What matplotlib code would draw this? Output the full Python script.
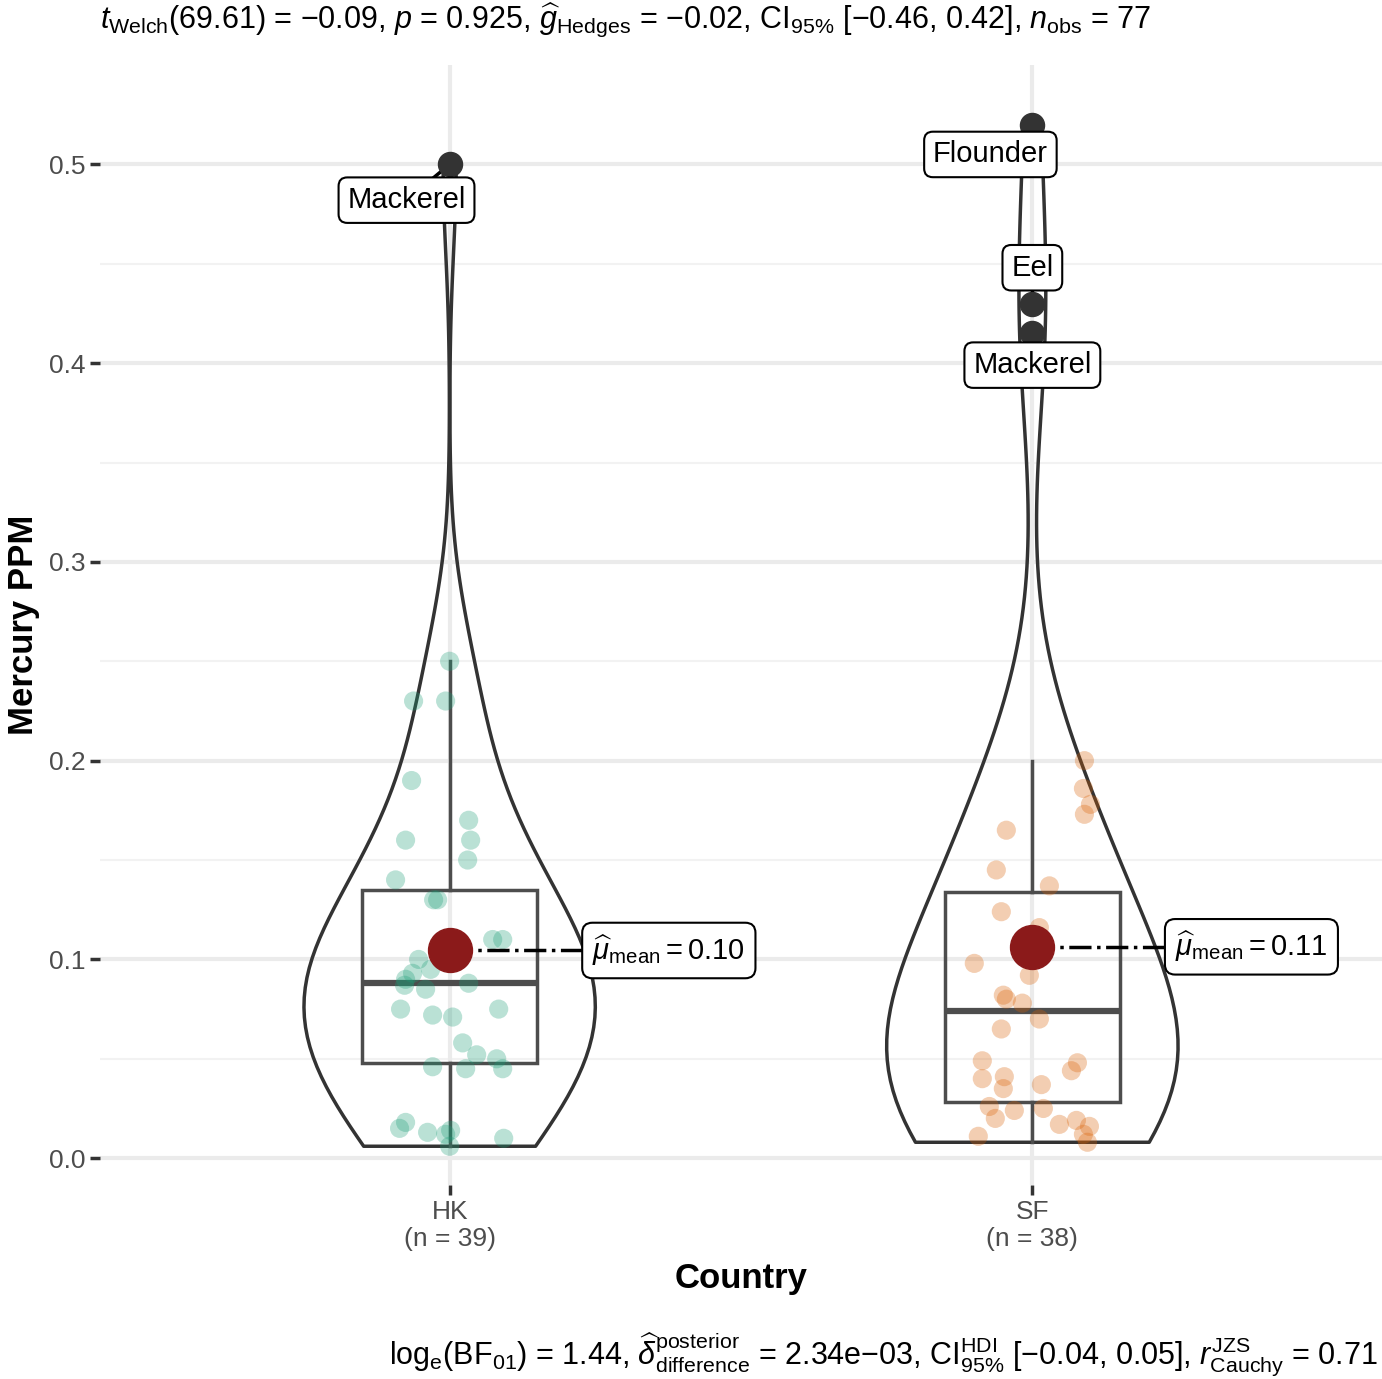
import numpy as np
import matplotlib
matplotlib.use("Agg")
import matplotlib.pyplot as plt

plt.rcParams["font.family"] = ["Liberation Sans", "DejaVu Sans"]
plt.rcParams["mathtext.fontset"] = "custom"
plt.rcParams["mathtext.rm"] = "Liberation Sans"
plt.rcParams["mathtext.it"] = "Liberation Sans:italic"
plt.rcParams["mathtext.bf"] = "Liberation Sans:bold"

# data
hk_vals = [0.5, 0.25, 0.23, 0.23, 0.19, 0.17, 0.16, 0.16, 0.15, 0.14, 0.13, 0.13,
           0.11, 0.11, 0.10, 0.10, 0.095, 0.093, 0.09, 0.088, 0.087, 0.085, 0.075,
           0.075, 0.072, 0.071, 0.058, 0.052, 0.05, 0.046, 0.045, 0.045, 0.018,
           0.015, 0.014, 0.013, 0.012, 0.01, 0.006]
hk_jit_px = [449, 449, 413, 445, 411, 468, 405, 470, 467, 395, 433, 437,
             492, 502, 418, 445, 430, 412, 405, 468, 404, 425, 400,
             498, 432, 452, 462, 476, 496, 432, 465, 502, 405,
             399, 450, 427, 445, 503, 449]
sf_vals = [0.52, 0.43, 0.415, 0.2, 0.186, 0.178, 0.173, 0.165, 0.145, 0.137, 0.124,
           0.116, 0.11, 0.105, 0.098, 0.092, 0.082, 0.08, 0.078, 0.07, 0.065, 0.049,
           0.048, 0.044, 0.041, 0.04, 0.037, 0.035, 0.026, 0.025, 0.024, 0.02,
           0.019, 0.017, 0.016, 0.012, 0.011, 0.008]
sf_jit_px = [1031, 1031, 1031, 1083, 1082, 1089, 1083, 1005, 995, 1048, 1000,
             1038, 1035, 1020, 973, 1028, 1002, 1005, 1021, 1038, 1000, 981,
             1076, 1070, 1003, 981, 1040, 1002, 988, 1042, 1013, 994,
             1075, 1058, 1088, 1082, 977, 1086]
groups = ["HK", "SF"]
group_n = [39, 38]
mean_labels = ["0.10", "0.11"]
outliers = [[("Mackerel", 0.5)], [("Flounder", 0.52), ("Eel", 0.43), ("Mackerel", 0.415)]]
title = (r"$t_{\mathrm{Welch}}$(69.61) = −0.09, $p$ = 0.925, $\widehat{g}_{\mathrm{Hedges}}$"
         r" = −0.02, CI$_{95\%}$ [−0.46, 0.42], $n_{\mathrm{obs}}$ = 77")
caption = (r"log$_{\mathrm{e}}$(BF$_{01}$) = 1.44, $\widehat{\delta}_{\mathrm{difference}}^{\mathrm{posterior}}$"
           r" = 2.34e−03, CI$_{95\%}^{\mathrm{HDI}}$ [−0.04, 0.05], $r_{\mathrm{Cauchy}}^{\mathrm{JZS}}$ = 0.71")
colors = ["#1B9E77", "#D95F02"]

all_vals = [np.array(hk_vals), np.array(sf_vals)]
all_jit = [(np.array(hk_jit_px) - 449) / 582, (np.array(sf_jit_px) - 1031) / 582]

fig = plt.figure(figsize=(13.82, 13.79), dpi=100)
ax = fig.add_axes([100 / 1382, 194 / 1379, 1282 / 1382, 1120 / 1379])
ax.set_xlim(0.4, 2.6)
ax.set_ylim(-0.0135, 0.55)
for s in ax.spines.values():
    s.set_visible(False)
for y in np.arange(0.05, 0.55, 0.1):
    ax.axhline(y, color="#F2F2F2", lw=1.5, zorder=0)
for y in np.arange(0, 0.51, 0.1):
    ax.axhline(y, color="#EBEBEB", lw=3, zorder=0)
for x in [1, 2]:
    ax.axvline(x, color="#EBEBEB", lw=3, zorder=0)

vp = ax.violinplot(all_vals, positions=[1, 2], widths=0.5, showextrema=False)
for b in vp["bodies"]:
    b.set_facecolor("none")
    b.set_edgecolor("#333333")
    b.set_linewidth(2.5)
    b.set_alpha(1)

bp = ax.boxplot(all_vals, positions=[1, 2], widths=0.3, showfliers=False, whis=1.5,
                patch_artist=True, showcaps=False)
for b in bp["boxes"]:
    b.set_facecolor("none")
    b.set_edgecolor("#4D4D4D")
    b.set_linewidth(2.5)
for w in bp["whiskers"]:
    w.set_color("#4D4D4D")
    w.set_linewidth(2.5)
for m in bp["medians"]:
    m.set_color("#4D4D4D")
    m.set_linewidth(4.5)

ax.set_xlim(0.4, 2.6)
ax.set_yticks(np.arange(0, 0.51, 0.1))
ax.set_yticklabels([f"{v:.1f}" for v in np.arange(0, 0.51, 0.1)])
ax.set_xticks([1, 2])
ax.set_xticklabels([f"{g}\n(n = {n})" for g, n in zip(groups, group_n)])
ax.tick_params(labelsize=19, labelcolor="#4D4D4D", length=7, width=2.5, color="#333333")
ax.set_xlabel("Country", fontsize=25, fontweight="bold", labelpad=8)
ax.set_ylabel("Mercury PPM", fontsize=25, fontweight="bold", labelpad=6)

for i, (vals, jit) in enumerate(zip(all_vals, all_jit)):
    pos = i + 1
    n_out = len(outliers[i])
    ax.scatter(pos + jit[n_out:], vals[n_out:], s=190, color=colors[i], alpha=0.3,
               edgecolors="none", zorder=3)
    ax.scatter([pos] * n_out, vals[:n_out], s=300, color="#333333", zorder=4)
    mean = vals.mean()
    ax.scatter([pos], [mean], s=1000, color="#8B1A1A", zorder=5)
    ax.plot([pos, pos + 0.24], [mean, mean], ls="-.", color="black", lw=2.5, zorder=4)
    ax.text(pos + 0.245, mean, r"$\widehat{\mu}_{\mathrm{mean}} = $" + mean_labels[i],
            fontsize=21, va="center", ha="left", zorder=6,
            bbox=dict(boxstyle="round,pad=0.35", fc="white", ec="black", lw=1.5))

label_pos = [[(0.926, 0.482)], [(1.928, 0.505), (2.0, 0.448), (2.0, 0.399)]]
for i, outs in enumerate(outliers):
    for (name, v), (lx, ly) in zip(outs, label_pos[i]):
        ax.plot([i + 1, lx], [v, ly], color="black", lw=2.5, zorder=3)
        ax.text(lx, ly, name, fontsize=21, ha="center", va="center", zorder=6,
                bbox=dict(boxstyle="round,pad=0.3", fc="white", ec="black", lw=1.5))

fig.text(100 / 1382, 1 - 20 / 1379, title, fontsize=22, ha="left", va="center")
fig.text(1378 / 1382, 1 - 1355 / 1379, caption, fontsize=22, ha="right", va="center")

fig.savefig("out.png", dpi=100)
